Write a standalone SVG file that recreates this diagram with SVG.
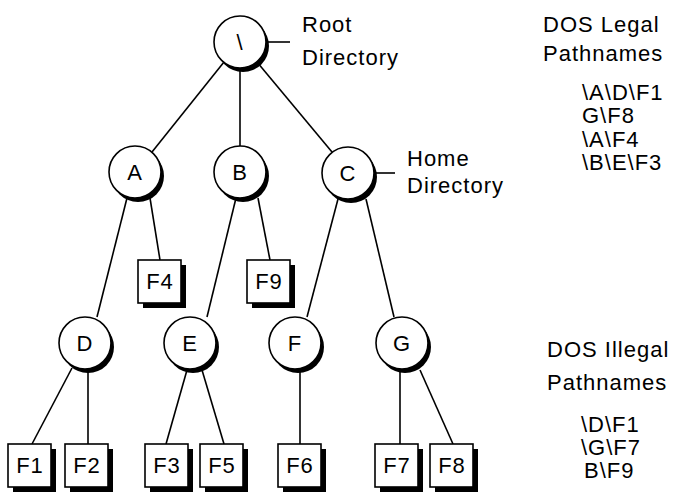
<svg xmlns="http://www.w3.org/2000/svg" width="675" height="495" viewBox="0 0 675 495">
<style>
text{font-family:"Liberation Sans",Arial,sans-serif;font-size:22px;fill:#000;letter-spacing:1px}
.c{text-anchor:middle}
.ring{fill:#fff;stroke:#000;stroke-width:1.6}
.sh{fill:#000}
.box{fill:#fff;stroke:#000;stroke-width:1.6}
.ln{stroke:#000;stroke-width:1.6;fill:none}
</style>
<rect width="675" height="495" fill="#fff"/>
<g id="connectors">
<line class="ln" x1="224" y1="62" x2="152" y2="152"/>
<line class="ln" x1="240" y1="68" x2="240" y2="146"/>
<line class="ln" x1="257" y1="62" x2="332" y2="152"/>
<line class="ln" x1="266" y1="42" x2="290" y2="42"/>
<line class="ln" x1="372" y1="173" x2="395" y2="173"/>
<line class="ln" x1="127" y1="198" x2="97" y2="317"/>
<line class="ln" x1="150" y1="198" x2="160" y2="260"/>
<line class="ln" x1="236" y1="198" x2="207" y2="317"/>
<line class="ln" x1="258" y1="198" x2="270" y2="260"/>
<line class="ln" x1="338" y1="199" x2="307" y2="317"/>
<line class="ln" x1="366" y1="199" x2="394" y2="317"/>
<line class="ln" x1="72" y1="368" x2="32" y2="444"/>
<line class="ln" x1="88" y1="370" x2="88" y2="444"/>
<line class="ln" x1="187" y1="370" x2="166" y2="444"/>
<line class="ln" x1="202" y1="370" x2="224" y2="444"/>
<line class="ln" x1="300" y1="370" x2="300" y2="444"/>
<line class="ln" x1="400" y1="370" x2="400" y2="444"/>
<line class="ln" x1="420" y1="370" x2="453" y2="444"/>
</g>
<g id="root"><circle class="sh" cx="243" cy="46" r="26"/><circle class="ring" cx="240" cy="42" r="26"/><text class="c" x="240" y="50">\</text></g>
<g id="A"><circle class="sh" cx="138" cy="176" r="26"/><circle class="ring" cx="135" cy="172" r="26"/><text class="c" x="135" y="180">A</text></g>
<g id="B"><circle class="sh" cx="243" cy="176" r="26"/><circle class="ring" cx="240" cy="172" r="26"/><text class="c" x="240" y="180">B</text></g>
<g id="C"><circle class="sh" cx="351" cy="177" r="26"/><circle class="ring" cx="348" cy="173" r="26"/><text class="c" x="348" y="181">C</text></g>
<g id="D"><circle class="sh" cx="88" cy="347" r="26"/><circle class="ring" cx="85" cy="343" r="26"/><text class="c" x="85" y="351">D</text></g>
<g id="E"><circle class="sh" cx="193" cy="347" r="26"/><circle class="ring" cx="190" cy="343" r="26"/><text class="c" x="190" y="351">E</text></g>
<g id="F"><circle class="sh" cx="298" cy="347" r="26"/><circle class="ring" cx="295" cy="343" r="26"/><text class="c" x="295" y="351">F</text></g>
<g id="G"><circle class="sh" cx="405" cy="347" r="26"/><circle class="ring" cx="402" cy="343" r="26"/><text class="c" x="402" y="351">G</text></g>
<g id="F4"><rect class="sh" x="143" y="265" width="43" height="43"/><rect class="box" x="138" y="260" width="43" height="43"/><text class="c" x="160" y="289">F4</text></g>
<g id="F9"><rect class="sh" x="252" y="265" width="43" height="43"/><rect class="box" x="247" y="260" width="43" height="43"/><text class="c" x="269" y="289">F9</text></g>
<g id="F1"><rect class="sh" x="13" y="449" width="43" height="43"/><rect class="box" x="8" y="444" width="43" height="43"/><text class="c" x="30" y="473">F1</text></g>
<g id="F2"><rect class="sh" x="70" y="449" width="43" height="43"/><rect class="box" x="65" y="444" width="43" height="43"/><text class="c" x="87" y="473">F2</text></g>
<g id="F3"><rect class="sh" x="150" y="449" width="43" height="43"/><rect class="box" x="145" y="444" width="43" height="43"/><text class="c" x="167" y="473">F3</text></g>
<g id="F5"><rect class="sh" x="205" y="449" width="43" height="43"/><rect class="box" x="200" y="444" width="43" height="43"/><text class="c" x="222" y="473">F5</text></g>
<g id="F6"><rect class="sh" x="283" y="449" width="43" height="43"/><rect class="box" x="278" y="444" width="43" height="43"/><text class="c" x="300" y="473">F6</text></g>
<g id="F7"><rect class="sh" x="380" y="449" width="43" height="43"/><rect class="box" x="375" y="444" width="43" height="43"/><text class="c" x="397" y="473">F7</text></g>
<g id="F8"><rect class="sh" x="435" y="449" width="43" height="43"/><rect class="box" x="430" y="444" width="43" height="43"/><text class="c" x="452" y="473">F8</text></g>
<g id="labels">
<text x="302" y="32">Root</text>
<text x="302" y="65">Directory</text>
<text x="407" y="166">Home</text>
<text x="407" y="193">Directory</text>
<text x="543" y="32">DOS Legal</text>
<text x="543" y="61">Pathnames</text>
<text x="582" y="100">\A\D\F1</text>
<text x="582" y="123">G\F8</text>
<text x="582" y="147">\A\F4</text>
<text x="582" y="170">\B\E\F3</text>
<text x="547" y="357">DOS Illegal</text>
<text x="547" y="390">Pathnames</text>
<text x="581" y="432">\D\F1</text>
<text x="581" y="455">\G\F7</text>
<text x="584" y="478">B\F9</text>
</g>
</svg>
